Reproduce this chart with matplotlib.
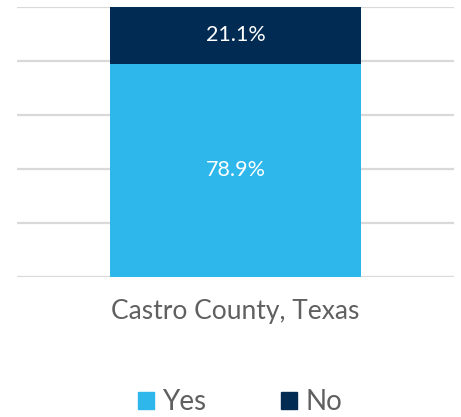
import matplotlib.pyplot as plt
from matplotlib.patches import Patch

plt.rcParams["font.family"] = ["Lato", "DejaVu Sans"]

categories = ["Castro County, Texas"]
yes_pct = [78.9]
no_pct = [21.1]

yes_color = "#2db7eb"
no_color = "#012b52"

fig = plt.figure(figsize=(4.61, 4.17), dpi=100)
ax = fig.add_axes([17 / 461, 1 - 277 / 417, 437 / 461, 270 / 417])

x = list(range(len(categories)))
width = 2 * 251 / 437
ax.bar(x, yes_pct, width=width, color=yes_color, zorder=2)
ax.bar(x, no_pct, width=width, bottom=yes_pct, color=no_color, zorder=2)

for xi, y, n in zip(x, yes_pct, no_pct):
    ax.text(xi, y / 2, f"{y:.1f}%", ha="center", va="center",
            color="white", fontsize=15.5)
    ax.text(xi, y + n / 2, f"{n:.1f}%", ha="center", va="center",
            color="white", fontsize=15.5)

ax.set_xlim(-1, 1)
ax.set_ylim(0, 100)
ax.set_yticks(range(0, 101, 20))
ax.yaxis.grid(True, color="#d9d9d9", linewidth=1.6, zorder=0)
ax.set_yticklabels([])
ax.tick_params(length=0)
ax.set_xticks(x)
ax.set_xticklabels(categories, fontsize=19, color="#606060")
ax.tick_params(axis="x", pad=16)
for s in ax.spines.values():
    s.set_visible(False)

handles = [Patch(color=yes_color, label="Yes"), Patch(color=no_color, label="No")]
fig.legend(handles=handles, loc="center", bbox_to_anchor=(240 / 461, 1 - 402 / 417),
           ncol=2, frameon=False, fontsize=20, labelcolor="#606060",
           handlelength=0.58, handleheight=0.58, handletextpad=0.3, columnspacing=2.7)

fig.savefig("out.png", dpi=100)
